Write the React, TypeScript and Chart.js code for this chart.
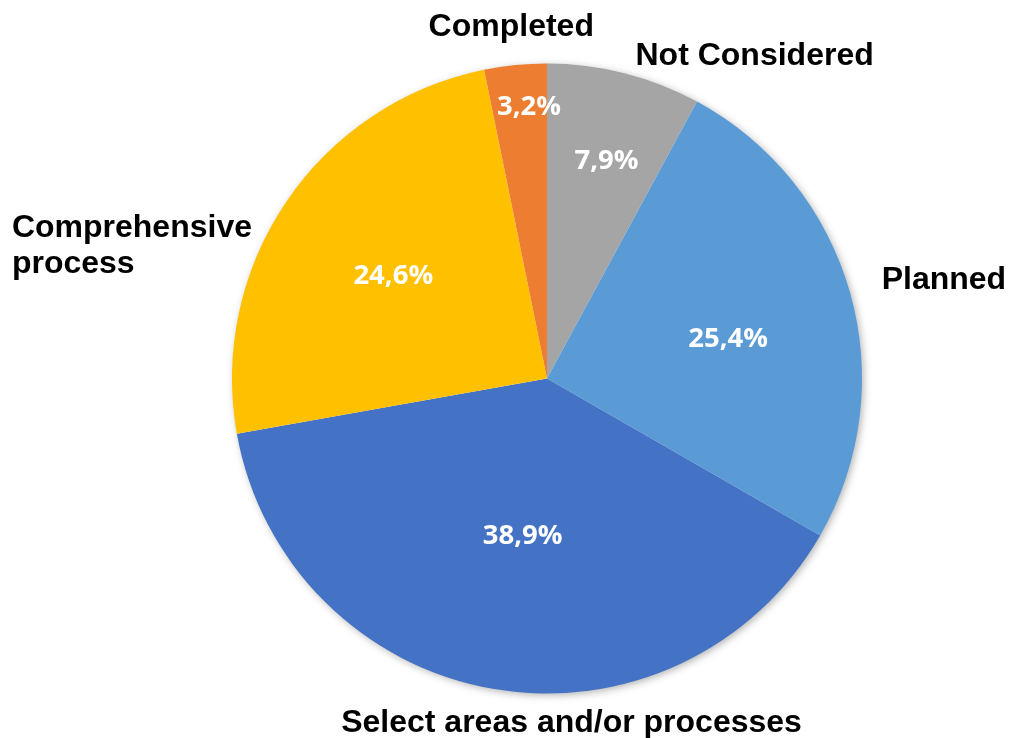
import React, { useEffect, useRef } from "react";
import { Chart, registerables } from "chart.js";

Chart.register(...registerables);

const categories = ["Not Considered", "Planned", "Select areas and/or processes", "Comprehensive process", "Completed"];
const values = [7.9, 25.4, 38.9, 24.6, 3.2];
const colors = ["#A5A5A5", "#5B9BD5", "#4472C4", "#FFC000", "#ED7D31"];
const labelLines = [["Not Considered"], ["Planned"], ["Select areas and/or processes"], ["Comprehensive", "process"], ["Completed"]];

// label placement styling (relative to each slice's geometry)
const pctRadius = [0.72, 0.59, 0.5, 0.59, 0.87];
const pctAngleNudge = [1, 3, -1, 0, 2];
const catPlace = [
  { k: 1.07, dA: 1, align: "left" },
  { k: 1.11, dA: -1, align: "left" },
  { k: 1.09, dA: -14, align: "center" },
  { k: 1.03, dA: -9.6, align: "right" },
  { k: 1.13, dA: 0, align: "center" },
];

const shadowPlugin = {
  id: "pieShadow",
  beforeDatasetsDraw(chart: any) {
    const meta = chart.getDatasetMeta(0);
    const arc = meta.data[0];
    if (!arc) return;
    const { x, y, outerRadius } = arc.getProps(["x", "y", "outerRadius"], true);
    const ctx = chart.ctx;
    ctx.save();
    ctx.shadowColor = "rgba(0,0,0,0.35)";
    ctx.shadowBlur = 9;
    ctx.shadowOffsetX = 2;
    ctx.shadowOffsetY = 2;
    ctx.fillStyle = "#ffffff";
    ctx.beginPath();
    ctx.arc(x, y, outerRadius - 1, 0, Math.PI * 2);
    ctx.fill();
    ctx.restore();
  },
};

const labelPlugin = {
  id: "pieLabels",
  afterDatasetsDraw(chart: any) {
    const meta = chart.getDatasetMeta(0);
    const ctx = chart.ctx;
    ctx.save();
    meta.data.forEach((arc: any, i: number) => {
      const { x, y, startAngle, endAngle, outerRadius } = arc.getProps(
        ["x", "y", "startAngle", "endAngle", "outerRadius"],
        true
      );
      const mid = (startAngle + endAngle) / 2;
      // percentage label
      const pa = mid + (pctAngleNudge[i] * Math.PI) / 180;
      const px = x + Math.cos(pa) * outerRadius * pctRadius[i];
      const py = y + Math.sin(pa) * outerRadius * pctRadius[i];
      const pfs = 27.5;
      ctx.font = `bold ${pfs}px "Open Sans"`;
      ctx.fillStyle = "#ffffff";
      ctx.textAlign = "center";
      ctx.textBaseline = "alphabetic";
      ctx.fillText(values[i].toFixed(1).replace(".", ",") + "%", px, py + pfs * 0.357);

      // category label
      const cp = catPlace[i];
      const ca = mid + (cp.dA * Math.PI) / 180;
      const ax = x + Math.cos(ca) * outerRadius * cp.k;
      const ay = y + Math.sin(ca) * outerRadius * cp.k;
      const fs = 32;
      const lh = 36;
      ctx.font = `bold ${fs}px "Liberation Sans", Arial, sans-serif`;
      ctx.fillStyle = "#000000";
      const lines = labelLines[i];
      const w = Math.max(...lines.map((l) => ctx.measureText(l).width));
      let left = ax;
      if (cp.align === "center") left = ax - w / 2;
      if (cp.align === "right") left = ax - w;
      const blockTop = ay - ((lines.length - 1) * lh) / 2;
      ctx.textAlign = lines.length > 1 ? "left" : "center";
      lines.forEach((l, j) => {
        const ly = blockTop + j * lh + fs * 0.358;
        if (lines.length > 1) ctx.fillText(l, left, ly);
        else ctx.fillText(l, left + w / 2, ly);
      });
    });
    ctx.restore();
  },
};

export default function App() {
  const ref = useRef<HTMLCanvasElement | null>(null);
  useEffect(() => {
    if (!ref.current) return;
    const chart = new Chart(ref.current, {
      type: "pie",
      data: {
        labels: categories,
        datasets: [
          {
            data: values,
            backgroundColor: colors,
            borderWidth: 0,
          },
        ],
      },
      options: {
        responsive: false,
        animation: false,
        layout: { padding: { left: 232, right: 147, top: 63.5, bottom: 44.5 } },
        plugins: {
          legend: { display: false },
          tooltip: { enabled: false },
          title: { display: false },
        },
      },
      plugins: [shadowPlugin, labelPlugin],
    });
    return () => chart.destroy();
  }, []);
  return (
    <div style={{ position: "absolute", left: 0, top: 0, width: 1009, height: 738, background: "#ffffff" }}>
      <canvas ref={ref} width={1009} height={738} />
    </div>
  );
}
